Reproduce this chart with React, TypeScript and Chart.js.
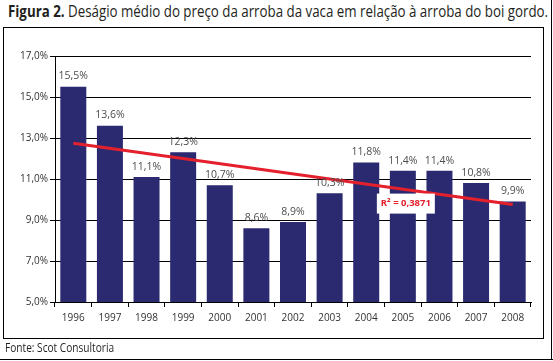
import React, { useEffect, useLayoutEffect, useRef } from "react";
import { Chart, registerables } from "chart.js";

Chart.register(...registerables);

const years = ["1996","1997","1998","1999","2000","2001","2002","2003","2004","2005","2006","2007","2008"];
const desagio = [15.5, 13.6, 11.1, 12.3, 10.7, 8.6, 8.9, 10.3, 11.8, 11.4, 11.4, 10.8, 9.9];
const trendEnds = [12.74, 9.76];
const r2Label = "R\u00B2 = 0,3871";
const yTicks = [5, 7, 9, 11, 13, 15, 17];

const fmt = (v: number) => v.toFixed(1).replace(".", ",") + "%";

function FitText(props: { left: number; top: number; width: number; size: number; children: any }) {
  const ref = useRef<HTMLSpanElement | null>(null);
  useLayoutEffect(() => {
    const el = ref.current;
    if (!el) return;
    el.style.transform = "none";
    const w = el.offsetWidth;
    if (w > 0) el.style.transform = `scaleX(${props.width / w})`;
  });
  return (
    <span
      ref={ref}
      style={{
        position: "absolute",
        left: props.left,
        top: props.top,
        whiteSpace: "nowrap",
        display: "inline-block",
        transformOrigin: "0 0",
        fontFamily: "'Open Sans', sans-serif",
        fontSize: props.size,
        color: "#231f20",
        lineHeight: 1.2,
      }}
    >
      {props.children}
    </span>
  );
}

export default function App() {
  const ref = useRef<HTMLCanvasElement | null>(null);
  useEffect(() => {
    const trend = years.map((_, i) => (i === 0 ? trendEnds[0] : i === years.length - 1 ? trendEnds[1] : null));
    const labelsPlugin = {
      id: "valueLabels",
      afterDatasetsDraw(chart: any) {
        const ctx = chart.ctx;
        const meta = chart.getDatasetMeta(1);
        ctx.save();
        ctx.font = "10.5px 'Open Sans'";
        ctx.fillStyle = "#4d4d4d";
        ctx.textAlign = "center";
        ctx.textBaseline = "bottom";
        meta.data.forEach((el: any, i: number) => {
          ctx.fillText(fmt(desagio[i]), el.x, el.y - 5);
        });
        ctx.restore();
      },
      afterDraw(chart: any) {
        const ctx = chart.ctx;
        const xs = chart.scales.x;
        const ys = chart.scales.y;
        const cx = xs.getPixelForValue(9) + 3;
        const cy = ys.getPixelForValue(9.8);
        ctx.save();
        ctx.fillStyle = "#ffffff";
        ctx.fillRect(cx - 29, cy - 10, 58, 20);
        ctx.font = "bold 9.5px 'Open Sans'";
        ctx.fillStyle = "#e4202c";
        ctx.textAlign = "center";
        ctx.textBaseline = "middle";
        ctx.fillText(r2Label, cx, cy);
        ctx.restore();
      },
    };
    const chart = new Chart(ref.current as HTMLCanvasElement, {
      type: "bar",
      data: {
        labels: years,
        datasets: [
          {
            type: "line",
            data: trend as any,
            borderColor: "#e4202c",
            borderWidth: 3,
            pointRadius: 0,
            spanGaps: true,
            order: 0,
          } as any,
          {
            type: "bar",
            data: desagio,
            backgroundColor: "#2b2a70",
            barPercentage: 0.71,
            categoryPercentage: 1,
            order: 1,
          },
        ],
      },
      options: {
        animation: false,
        responsive: false,
        devicePixelRatio: 1,
        layout: { padding: { left: 8, right: 22, top: 56, bottom: 24 } },
        plugins: { legend: { display: false }, tooltip: { enabled: false }, title: { display: false } },
        scales: {
          x: {
            grid: { display: true, drawOnChartArea: false, offset: true, color: "#000", tickLength: 5 },
            border: { display: true, color: "#000", width: 1 },
            ticks: { color: "#333", font: { family: "'Open Sans'", size: 10 }, padding: 5, maxRotation: 0 },
            afterFit: (s: any) => { s.height = 35; },
          },
          y: {
            min: 5,
            max: 17,
            afterBuildTicks: (s: any) => { s.ticks = yTicks.map((v) => ({ value: v })); },
            grid: { color: "#000", lineWidth: 1, tickLength: 5 },
            border: { display: true, color: "#000", width: 1 },
            ticks: { color: "#333", font: { family: "'Open Sans'", size: 10 }, padding: 2, callback: (v: any) => fmt(Number(v)) },
            afterFit: (s: any) => { s.width = 47; },
          },
        },
      },
      plugins: [labelsPlugin],
    });
    return () => chart.destroy();
  }, []);

  return (
    <div style={{ position: "absolute", left: 0, top: 0, width: 553, height: 361, background: "#fff", overflow: "hidden" }}>
      <FitText left={8} top={2} width={540} size={16}>
        <b>Figura 2.</b> Deságio médio do preço da arroba da vaca em relação à arroba do boi gordo.
      </FitText>
      <div style={{ position: "absolute", left: 3, top: 27, width: 539, height: 310, border: "1px solid #000" }} />
      <div style={{ position: "absolute", left: 551, top: 0, width: 1, height: 360, background: "#000" }} />
      <div style={{ position: "absolute", left: 0, top: 359, width: 553, height: 1, background: "#000" }} />
      <canvas ref={ref} width={553} height={361} style={{ position: "absolute", left: 0, top: 0, width: 553, height: 361 }} />
      <FitText left={5} top={340} width={109} size={13}>
        Fonte: Scot Consultoria
      </FitText>
    </div>
  );
}
